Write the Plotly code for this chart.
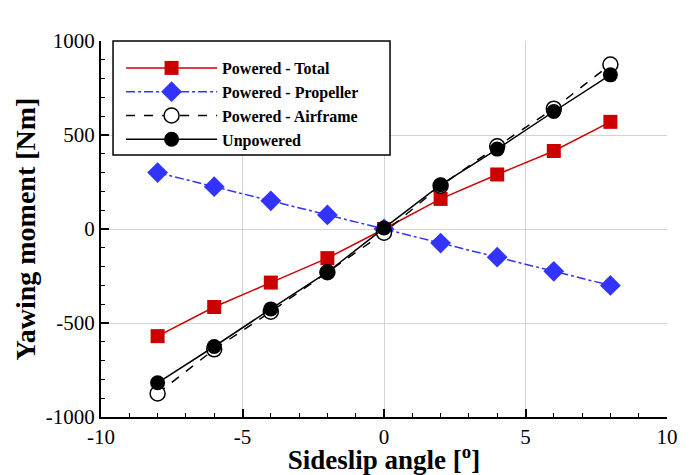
import plotly.graph_objects as go

sideslip = [-8, -6, -4, -2, 0, 2, 4, 6, 8]
powered_total = [-570, -415, -285, -155, 0, 160, 290, 415, 570]
powered_propeller = [300, 225, 150, 75, 0, -75, -150, -225, -300]
powered_airframe = [-875, -640, -440, -230, -20, 230, 440, 640, 875]
unpowered = [-818, -625, -425, -230, 5, 235, 425, 625, 820]

x_tick_vals = [-10, -5, 0, 5, 10]
x_tick_text = ["-10", "-5", "0", "5", "10"]
y_tick_vals = [-1000, -500, 0, 500, 1000]
y_tick_text = ["-1000", "-500", "0", "500", "1000"]

FONT = "Liberation Serif"

fig = go.Figure()
fig.add_trace(go.Scatter(
    x=sideslip, y=powered_total, name="Powered - Total", mode="lines+markers",
    line=dict(color="#CC0000", width=1.5),
    marker=dict(symbol="square", size=14, color="#CC0000")))
fig.add_trace(go.Scatter(
    x=sideslip, y=powered_propeller, name="Powered - Propeller", mode="lines+markers",
    line=dict(color="#3333FF", width=1.5, dash="dashdot"),
    marker=dict(symbol="diamond", size=16, color="#3333FF")))
fig.add_trace(go.Scatter(
    x=sideslip, y=powered_airframe, name="Powered - Airframe", mode="lines+markers",
    line=dict(color="black", width=1.5, dash="dash"),
    marker=dict(symbol="circle", size=15, color="white", line=dict(color="black", width=1.5))))
fig.add_trace(go.Scatter(
    x=sideslip, y=unpowered, name="Unpowered", mode="lines+markers",
    line=dict(color="black", width=1.5),
    marker=dict(symbol="circle", size=15, color="black")))

fig.add_shape(type="rect", xref="paper", yref="paper",
              x0=(113 - 101) / 564, x1=(389 - 101) / 564,
              y0=1 - (155 - 41) / 376, y1=1,
              line=dict(color="black", width=1.5), fillcolor="white", layer="above")

fig.update_layout(
    width=685, height=467,
    margin=dict(l=93, r=26, t=33, b=58, autoexpand=False),
    paper_bgcolor="white", plot_bgcolor="white",
    font=dict(family=FONT, color="black"),
    showlegend=True,
    legend=dict(x=(121 - 101) / 564, y=1 - (51 - 41) / 376, xanchor="left", yanchor="top",
                bgcolor="rgba(0,0,0,0)", borderwidth=0,
                font=dict(family=FONT, size=16, color="black", weight="bold"),
                tracegroupgap=0, itemwidth=91),
    xaxis=dict(range=[-10, 10], tickvals=x_tick_vals, ticktext=x_tick_text, showgrid=True,
               gridcolor="#D3D3D3", gridwidth=1, zeroline=False, automargin=False,
               showline=True, linecolor="black", linewidth=2,
               ticks="inside", ticklen=8, tickwidth=1.5, tickcolor="black",
               minor=dict(dtick=1, ticks="inside", ticklen=4, tickwidth=1, tickcolor="black", showgrid=False),
               tickfont=dict(family=FONT, size=21),
               title=dict(text="Sideslip angle [<sup>o</sup>]", font=dict(family=FONT, size=27, weight="bold"), standoff=5)),
    yaxis=dict(range=[-1000, 1000], tickvals=y_tick_vals, ticktext=y_tick_text, showgrid=True,
               gridcolor="#D3D3D3", gridwidth=1, zeroline=False, automargin=False,
               showline=True, linecolor="black", linewidth=2,
               ticks="inside", ticklen=8, tickwidth=1.5, tickcolor="black",
               minor=dict(dtick=100, ticks="inside", ticklen=4, tickwidth=1, tickcolor="black", showgrid=False),
               tickfont=dict(family=FONT, size=21),
               title=dict(text="Yawing moment [Nm]", font=dict(family=FONT, size=28, weight="bold"), standoff=2)),
)

fig.write_html("out.html")
